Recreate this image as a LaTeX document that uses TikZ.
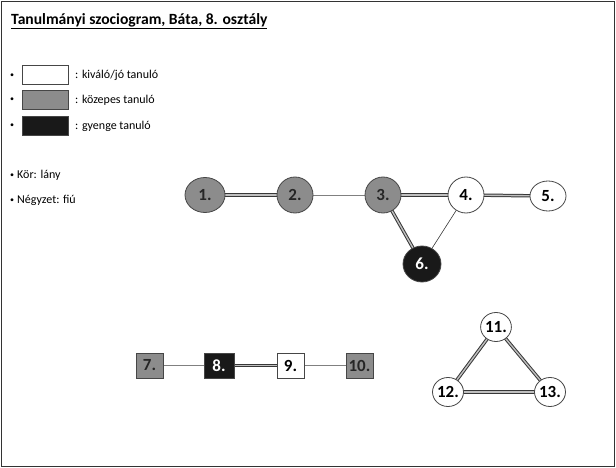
\documentclass[tikz,border=0pt]{standalone}
\usepackage{fontspec}
\setmainfont{Carlito}
\usetikzlibrary{shapes.geometric,backgrounds}
\definecolor{midgray}{RGB}{140,140,140}
\definecolor{edgedark}{RGB}{55,55,55}
\definecolor{bordgray}{RGB}{70,70,70}
\tikzset{
  circ/.style={ellipse,draw=bordgray,line width=0.8pt,inner sep=0pt,font=\fontsize{17}{17}\selectfont\bfseries},
  sq/.style={rectangle,draw=bordgray,line width=0.8pt,inner sep=0pt,font=\fontsize{17}{17}\selectfont\bfseries},
  wfill/.style={fill=white,text=black},
  gfill/.style={fill=midgray,text=black!85},
  bfill/.style={fill=black!90,text=white},
  dbl/.style={draw=edgedark,line width=1pt,double=gray!50,double distance=1.4pt},
  sgl/.style={draw=gray,line width=1pt},
  thin1/.style={draw=edgedark,line width=0.6pt},
  legbox/.style={rectangle,draw=bordgray,line width=0.6pt,minimum width=46pt,minimum height=19pt,inner sep=0pt},
  legtxt/.style={anchor=west,font=\fontsize{12}{12}\selectfont,inner sep=0pt},
  bul/.style={anchor=center,font=\fontsize{8}{8}\selectfont,inner sep=0pt},
}
\begin{document}
\begin{tikzpicture}[x=1pt,y=-1pt]
\useasboundingbox (0,0) rectangle (616,468);
\draw[line width=1pt,black!80] (1.5,1.5) rectangle (614.5,466.5);
\node[anchor=west,inner sep=0pt,font=\fontsize{15.6}{16}\selectfont\bfseries] (title) at (11,21) {\underline{Tanulmányi szociogram, Báta, 8. osztály}};
% legend
\node[bul] (b1) at (12,76) {•};
\node[bul] (b2) at (12,100) {•};
\node[bul] (b3) at (12,126) {•};
\node[legbox,fill=white] (lw) at (45,75) {};
\node[legbox,fill=midgray] (lg) at (45,100) {};
\node[legbox,fill=black!90] (lb) at (45,126) {};
\node[legtxt] (tw) at (75,75) {: kiváló/jó tanuló};
\node[legtxt] (tg) at (75,100) {: közepes tanuló};
\node[legtxt] (tb) at (75,126) {: gyenge tanuló};
\node[bul] (b4) at (12,176) {•};
\node[bul] (b5) at (12,201) {•};
\node[legtxt] (kor) at (17,175) {Kör: lány};
\node[legtxt] (negy) at (17,200) {Négyzet: fiú};
% nodes
\node[circ,gfill,minimum width=40pt,minimum height=35pt] (n1) at (205,195) {1.};
\node[circ,gfill,minimum width=36pt,minimum height=36pt] (n2) at (295,195) {2.};
\node[circ,gfill,minimum width=36pt,minimum height=36pt] (n3) at (383,195) {3.};
\node[circ,wfill,minimum width=36pt,minimum height=36pt] (n4) at (466,195) {4.};
\node[circ,wfill,minimum width=36pt,minimum height=30pt] (n5) at (548,196) {5.};
\node[circ,bfill,minimum width=38pt,minimum height=36pt] (n6) at (422,264) {6.};
\node[sq,gfill,minimum width=27pt,minimum height=25pt] (n7) at (149.5,365.5) {7.};
\node[sq,bfill,minimum width=30pt,minimum height=25pt] (n8) at (219,365.5) {8.};
\node[sq,wfill,minimum width=27pt,minimum height=25pt] (n9) at (290.5,365.5) {9.};
\node[sq,gfill,minimum width=27pt,minimum height=25pt] (n10) at (359.5,365.5) {10.};
\node[circ,wfill,minimum width=29pt,minimum height=29pt] (n11) at (496,327) {11.};
\node[circ,wfill,minimum width=31pt,minimum height=29pt] (n12) at (448,392) {12.};
\node[circ,wfill,minimum width=31pt,minimum height=29pt] (n13) at (550,392) {13.};
% edges
\begin{scope}[on background layer]
\draw[dbl] (n1.center) -- (n2.center);
\draw[sgl,line width=0.7pt] (n2.center) -- (n3.center);
\draw[dbl] (n3.center) -- (n4.center);
\draw[dbl] (n4.center) -- (n5.center);
\draw[dbl] (n3.center) -- (n6.center);
\draw[thin1] (n4.center) -- (n6.center);
\draw[sgl] (n7.center) -- (n8.center);
\draw[dbl] (n8.center) -- (n9.center);
\draw[sgl] (n9.center) -- (n10.center);
\draw[dbl] (n11.center) -- (n12.center);
\draw[dbl] (n11.center) -- (n13.center);
\draw[dbl] (n12.center) -- (n13.center);
\end{scope}
\end{tikzpicture}
\end{document}
